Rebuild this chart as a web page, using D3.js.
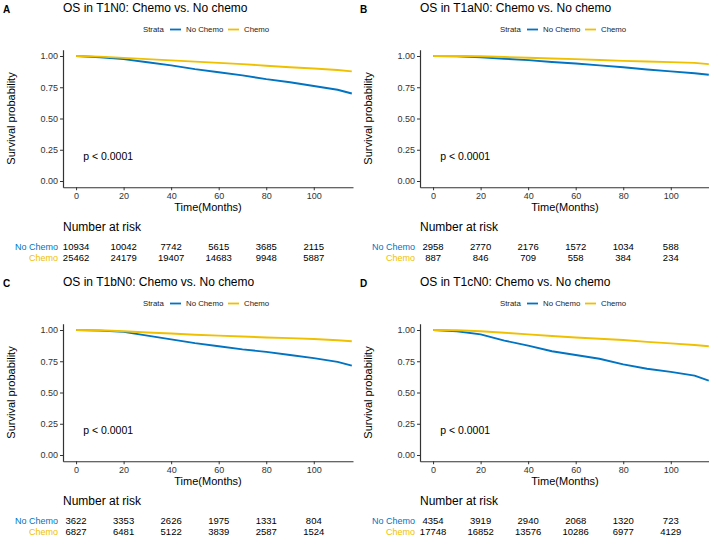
<!DOCTYPE html>
<html>
<head>
<meta charset="utf-8">
<script src="https://cdn.jsdelivr.net/npm/d3@7"></script>
<style>
  body { margin: 0; background: #fff; }
  svg { display: block; font-family: "Liberation Sans", Arial, sans-serif; }
</style>
</head>
<body>
<div id="chart"></div>
<script>
// survival, months 0..116
var months = [0, 10, 20, 30, 40, 50, 60, 70, 80, 90, 100, 110, 116];

var survA_noChemo = [1, 0.99, 0.975, 0.95, 0.925, 0.895, 0.87, 0.845, 0.815, 0.79, 0.76, 0.73, 0.70];
var survA_chemo = [1, 0.995, 0.985, 0.975, 0.965, 0.955, 0.945, 0.935, 0.922, 0.91, 0.9, 0.888, 0.877];
var survB_noChemo = [1, 0.998, 0.99, 0.978, 0.967, 0.952, 0.94, 0.925, 0.91, 0.892, 0.877, 0.862, 0.85];
var survB_chemo = [1, 1, 0.998, 0.992, 0.986, 0.98, 0.975, 0.968, 0.961, 0.956, 0.951, 0.945, 0.935];
var survC_noChemo = [1, 0.995, 0.985, 0.955, 0.925, 0.895, 0.87, 0.845, 0.825, 0.8, 0.775, 0.745, 0.715];
var survC_chemo = [1, 0.998, 0.99, 0.98, 0.972, 0.962, 0.955, 0.948, 0.94, 0.935, 0.928, 0.918, 0.91];
var survD_noChemo = [1, 0.99, 0.965, 0.915, 0.875, 0.83, 0.8, 0.77, 0.725, 0.69, 0.665, 0.635, 0.595];
var survD_chemo = [1, 0.998, 0.99, 0.978, 0.965, 0.952, 0.94, 0.93, 0.92, 0.905, 0.893, 0.88, 0.87];

// number at risk table
var riskTimes = [0, 20, 40, 60, 80, 100];
var riskA_noChemo = [10934, 10042, 7742, 5615, 3685, 2115];
var riskA_chemo = [25462, 24179, 19407, 14683, 9948, 5887];
var riskB_noChemo = [2958, 2770, 2176, 1572, 1034, 588];
var riskB_chemo = [887, 846, 709, 558, 384, 234];
var riskC_noChemo = [3622, 3353, 2626, 1975, 1331, 804];
var riskC_chemo = [6827, 6481, 5122, 3839, 2587, 1524];
var riskD_noChemo = [4354, 3919, 2940, 2068, 1320, 723];
var riskD_chemo = [17748, 16852, 13576, 10286, 6977, 4129];

var xTicks = [0, 20, 40, 60, 80, 100];
var yTicks = [0, 0.25, 0.5, 0.75, 1];
var strata = ["No Chemo", "Chemo"];
var colors = ["#0073C2", "#EFC000"];

var panels = [
  { label: "A", title: "OS in T1N0: Chemo vs. No chemo", left: 63, dy: 0, surv: [survA_noChemo, survA_chemo], risk: [riskA_noChemo, riskA_chemo] },
  { label: "B", title: "OS in T1aN0: Chemo vs. No chemo", left: 420, dy: 0, surv: [survB_noChemo, survB_chemo], risk: [riskB_noChemo, riskB_chemo] },
  { label: "C", title: "OS in T1bN0: Chemo vs. No chemo", left: 63, dy: 274, surv: [survC_noChemo, survC_chemo], risk: [riskC_noChemo, riskC_chemo] },
  { label: "D", title: "OS in T1cN0: Chemo vs. No chemo", left: 420, dy: 274, surv: [survD_noChemo, survD_chemo], risk: [riskD_noChemo, riskD_chemo] }
];

var svg = d3.select("#chart").append("svg")
  .attr("width", 709)
  .attr("height", 538);

svg.append("rect").attr("width", 709).attr("height", 538).attr("fill", "#fff");

panels.forEach(function (p) {
  var g = svg.append("g").attr("transform", "translate(0," + p.dy + ")");

  var x = d3.scaleLinear().domain([-5.5, 116.5]).range([p.left, p.left + 290]);
  var y = d3.scaleLinear().domain([-0.05, 1.05]).range([187.25, 49.75]);

  // panel letter + title
  g.append("text").attr("x", p.left - 60).attr("y", 13)
    .attr("font-size", "10px").attr("font-weight", "bold").text(p.label);
  g.append("text").attr("x", p.left).attr("y", 12)
    .attr("font-size", "12px").text(p.title);

  // legend
  var lg = g.append("g").attr("font-size", "7.8px").attr("fill", "#222");
  lg.append("text").attr("x", p.left + 80).attr("y", 32).text("Strata");
  var lx = [p.left + 107, p.left + 165];
  strata.forEach(function (s, i) {
    lg.append("line").attr("x1", lx[i]).attr("x2", lx[i] + 11)
      .attr("y1", 29.5).attr("y2", 29.5)
      .attr("stroke", colors[i]).attr("stroke-width", 1.8);
    lg.append("text").attr("x", lx[i] + 16).attr("y", 32).text(s);
  });

  // axes
  var yAxis = g.append("g").attr("transform", "translate(" + p.left + ",0)")
    .call(d3.axisLeft(y).tickValues(yTicks).tickFormat(d3.format(".2f"))
      .tickSize(3).tickSizeOuter(0).tickPadding(2));
  var xAxis = g.append("g").attr("transform", "translate(0," + y(-0.05) + ")")
    .call(d3.axisBottom(x).tickValues(xTicks).tickSize(3).tickSizeOuter(0).tickPadding(2));
  [xAxis, yAxis].forEach(function (a) {
    a.select(".domain").attr("stroke", "#333").attr("stroke-width", 1.2);
    a.selectAll(".tick line").attr("stroke", "#333");
    a.selectAll(".tick text").attr("fill", "#333").attr("font-size", "9px")
      .attr("font-family", "Liberation Sans, Arial, sans-serif");
  });

  g.append("text")
    .attr("transform", "translate(" + (p.left - 48) + "," + (y(0.5)) + ")rotate(-90)")
    .attr("text-anchor", "middle").attr("font-size", "11px")
    .text("Survival probability");
  g.append("text").attr("x", p.left + 145).attr("y", 211)
    .attr("text-anchor", "middle").attr("font-size", "11px")
    .text("Time(Months)");

  // curves
  var line = d3.line()
    .x(function (d, i) { return x(months[i]); })
    .y(function (d) { return y(d); });
  p.surv.forEach(function (s, i) {
    g.append("path").attr("d", line(s))
      .attr("fill", "none").attr("stroke", colors[i])
      .attr("stroke-width", 1.9).attr("stroke-linejoin", "round");
  });

  g.append("text").attr("x", x(3)).attr("y", y(0.2)).attr("dy", "0.35em")
    .attr("font-size", "10.5px").text("p < 0.0001");

  // risk table
  g.append("text").attr("x", p.left).attr("y", 231)
    .attr("font-size", "12px").text("Number at risk");
  var rowY = [249.5, 260.5];
  p.risk.forEach(function (r, i) {
    g.append("text").attr("x", p.left - 5).attr("y", rowY[i])
      .attr("text-anchor", "end").attr("font-size", "9px")
      .attr("fill", colors[i]).text(strata[i]);
    g.selectAll(null).data(r).enter().append("text")
      .attr("x", function (d, j) { return x(riskTimes[j]); })
      .attr("y", rowY[i])
      .attr("text-anchor", "middle").attr("font-size", "9.5px")
      .text(function (d) { return d; });
  });
});
</script>
</body>
</html>
